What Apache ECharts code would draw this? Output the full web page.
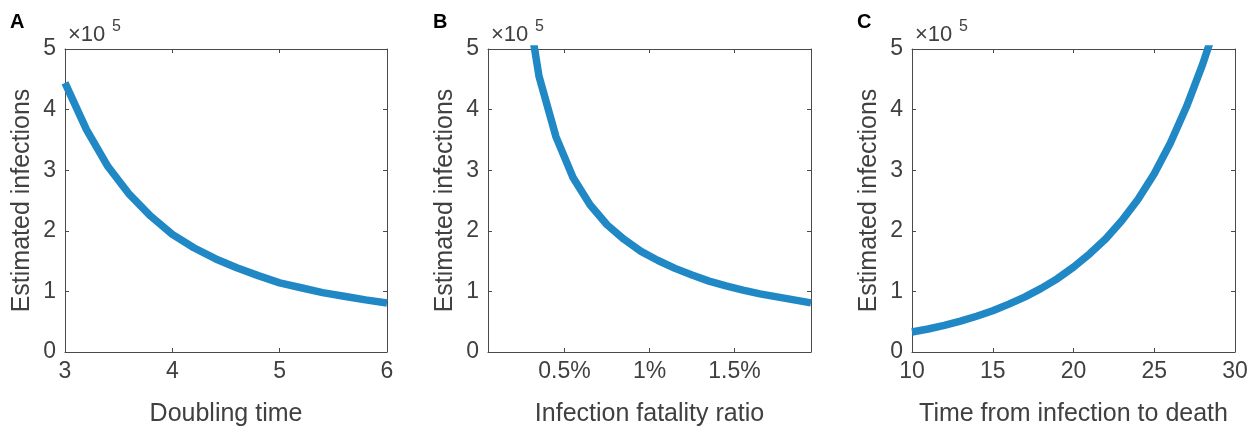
<!DOCTYPE html>
<html>
<head>
<meta charset="utf-8">
<script src="https://cdn.jsdelivr.net/npm/echarts@6/dist/echarts.min.js"></script>
<style>
html,body{margin:0;padding:0;background:#fff;}
#chart{width:1257px;height:432px;}
</style>
</head>
<body>
<div id="chart"></div>
<script>
// Panel A: doubling time (days) vs estimated infections
const doublingTime = [3.0, 3.2, 3.4, 3.6, 3.8, 4.0, 4.2, 4.4, 4.6, 4.8, 5.0, 5.2, 5.4, 5.6, 5.8, 6.0];
const infectionsA  = [444000, 367000, 306000, 260000, 224000, 194000, 172000, 154000, 139000, 126000, 114000, 106000, 98000, 92000, 86000, 81000];

// Panel B: infection fatality ratio (%) vs estimated infections
const fatalityRatio = [0.25, 0.35, 0.45, 0.55, 0.65, 0.75, 0.85, 0.95, 1.05, 1.15, 1.25, 1.35, 1.45, 1.55, 1.65, 1.75, 1.85, 1.95];
const infectionsB   = [630000, 455000, 355000, 288000, 243000, 210000, 186000, 166000, 151000, 138000, 127000, 117000, 109000, 102000, 96000, 91000, 86000, 81000];

// Panel C: time from infection to death (days) vs estimated infections
const timeToDeath = [10, 11, 12, 13, 14, 15, 16, 17, 18, 19, 20, 21, 22, 23, 24, 25, 26, 27, 28, 29];
const infectionsC = [33000, 38000, 44000, 51000, 59000, 68000, 79000, 91000, 105000, 121000, 140000, 162000, 187000, 217000, 252000, 294000, 345000, 405000, 475000, 555000];

const yTicks = [0, 1, 2, 3, 4, 5];
const ifrTicks = [0.5, 1, 1.5];
const panelLetters = ['A', 'B', 'C'];
const xNames = ['Doubling time', 'Infection fatality ratio', 'Time from infection to death'];
const yName = 'Estimated infections';

const AX = '#4a4a4a';
const TXT = '#404040';
const LINE = '#2188c6';
const FONT = '"Liberation Sans", Arial, Helvetica, sans-serif';

const grids = [
  {left: 65, top: 49, width: 322, height: 310},
  {left: 488, top: 49, width: 323, height: 310},
  {left: 912, top: 49, width: 323, height: 310}
];

const xRanges = [
  {min: 3, max: 6, interval: 1},
  {min: 0.05, max: 1.95},
  {min: 10, max: 30, interval: 5}
];

const xAxes = [], yAxes = [];
grids.forEach((g, i) => {
  const r = xRanges[i];
  const bottom = {
    type: 'value', gridIndex: i, position: 'bottom', min: r.min, max: r.max,
    name: xNames[i], nameLocation: 'middle', nameGap: 50,
    nameTextStyle: {color: TXT, fontSize: 25, fontFamily: FONT},
    axisLine: {show: true, onZero: false, lineStyle: {color: AX, width: 1}},
    axisTick: {show: true, inside: true, length: 4, lineStyle: {color: AX}},
    axisLabel: {color: TXT, fontSize: 23, fontFamily: FONT, margin: 8},
    splitLine: {show: false}
  };
  const top = {
    type: 'value', gridIndex: i, position: 'top', min: r.min, max: r.max,
    axisLine: {show: true, onZero: false, lineStyle: {color: AX, width: 1}},
    axisTick: {show: true, inside: true, length: 4, lineStyle: {color: AX}},
    axisLabel: {show: false}, splitLine: {show: false}
  };
  if (r.interval) {
    bottom.interval = r.interval; top.interval = r.interval;
  } else {
    bottom.axisTick.customValues = ifrTicks;
    bottom.axisLabel.customValues = ifrTicks;
    bottom.axisLabel.formatter = v => (+v.toFixed(2)) + '%';
    top.axisTick.customValues = ifrTicks;
    top.axisLabel.customValues = ifrTicks;
  }
  xAxes.push(bottom, top);
  yAxes.push({
    type: 'value', gridIndex: i, position: 'left', min: 0, max: 500000, interval: 100000,
    name: yName, nameLocation: 'middle', nameGap: 30, nameRotate: 90,
    nameTextStyle: {color: TXT, fontSize: 25, fontFamily: FONT},
    axisLine: {show: true, onZero: false, lineStyle: {color: AX, width: 1}},
    axisTick: {show: true, inside: true, length: 4, lineStyle: {color: AX}},
    axisLabel: {color: TXT, fontSize: 23, fontFamily: FONT, margin: 9,
      formatter: v => String(Math.round(v / 100000))},
    splitLine: {show: false}
  }, {
    type: 'value', gridIndex: i, position: 'right', min: 0, max: 500000, interval: 100000,
    axisLine: {show: true, onZero: false, lineStyle: {color: AX, width: 1}},
    axisTick: {show: true, inside: true, length: 4, lineStyle: {color: AX}},
    axisLabel: {show: false}, splitLine: {show: false}
  });
});

const xs = [doublingTime, fatalityRatio, timeToDeath];
const ys = [infectionsA, infectionsB, infectionsC];
const series = xs.map((x, i) => ({
  type: 'line', xAxisIndex: i * 2, yAxisIndex: i * 2,
  data: x.map((v, j) => [v, ys[i][j]]),
  showSymbol: false, symbol: 'none', clip: true, smooth: false,
  lineStyle: {color: LINE, width: 7.5, join: 'round'}
}));

const graphic = [];
grids.forEach((g, i) => {
  graphic.push({
    type: 'text', left: g.left - 55, top: 12,
    style: {text: panelLetters[i], fill: '#000', font: 'bold 20px ' + FONT}
  });
  graphic.push({
    type: 'text', left: g.left + 3, top: 24,
    style: {text: '\u00d710', fill: TXT, font: '22px ' + FONT}
  });
  graphic.push({
    type: 'text', left: g.left + 47, top: 19,
    style: {text: '5', fill: TXT, font: '16px ' + FONT}
  });
});

const chart = echarts.init(document.getElementById('chart'), null, {renderer: 'canvas'});
chart.setOption({
  animation: false,
  backgroundColor: '#fff',
  grid: grids.map(g => Object.assign({containLabel: false}, g)),
  xAxis: xAxes,
  yAxis: yAxes,
  series: series,
  graphic: graphic
});
</script>
</body>
</html>
